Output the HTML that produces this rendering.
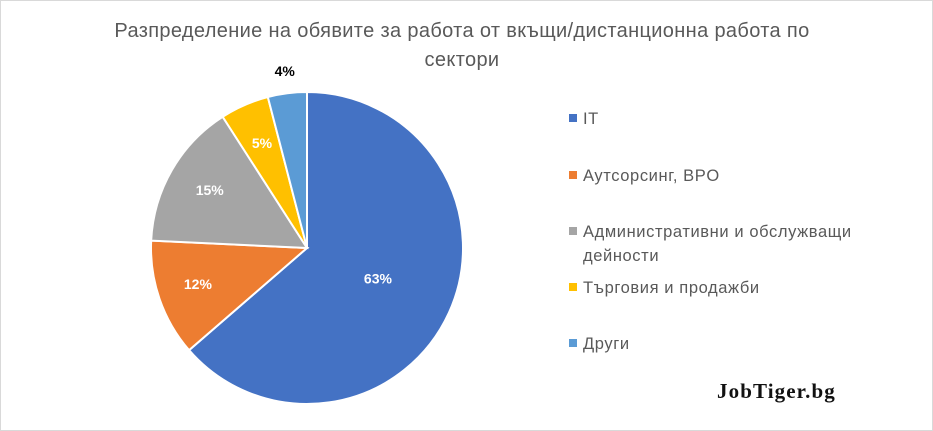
<!DOCTYPE html>
<html><head><meta charset="utf-8"><style>
body{margin:0;background:#fff;width:933px;height:431px;overflow:hidden;font-family:"Liberation Sans","DejaVu Sans",sans-serif;}
svg{display:block}
</style></head><body>
<svg id="c" width="933" height="431">
<rect x="0.5" y="0.5" width="932" height="430" fill="#fff" stroke="#d9d9d9"/>
<text x="462" y="37" text-anchor="middle" font-size="20" letter-spacing="0.35" fill="#595959">Разпределение на обявите за работа от вкъщи/дистанционна работа по</text>
<text x="462" y="66" text-anchor="middle" font-size="20" letter-spacing="0.35" fill="#595959">сектори</text>
<g id="slices"></g><g id="labels"></g><g id="legend"></g>
<text x="717" y="398" font-family="'Liberation Serif',serif" font-weight="bold" font-size="21" letter-spacing="1.1" fill="#111">JobTiger.bg</text>
</svg>
<script>
const categories=["IT","Аутсорсинг, BPO","Административни и обслужващи|дейности","Търговия и продажби","Други"];
const values=[63,12,15,5,4];
const labels=["63%","12%","15%","5%","4%"];
const colors=["#4472c4","#ed7d31","#a5a5a5","#ffc000","#5b9bd5"];
const lr=[0.5,0.74,0.72,0.72,1.13];
const NS="http://www.w3.org/2000/svg";
const cx=307,cy=248,r=156;
const total=values.reduce((a,b)=>a+b,0);
let a0=0;
const sg=document.getElementById('slices'),lg=document.getElementById('labels'),leg=document.getElementById('legend');
function pt(a,rr){return [cx+rr*Math.sin(a),cy-rr*Math.cos(a)];}
values.forEach((v,i)=>{
  const a1=a0+v/total*2*Math.PI;
  const [x0,y0]=pt(a0,r),[x1,y1]=pt(a1,r);
  const p=document.createElementNS(NS,'path');
  p.setAttribute('d',`M${cx},${cy}L${x0},${y0}A${r},${r} 0 ${a1-a0>Math.PI?1:0} 1 ${x1},${y1}Z`);
  p.setAttribute('fill',colors[i]);p.setAttribute('stroke','#fff');p.setAttribute('stroke-width','2');
  
  
  sg.appendChild(p);
  const [lx,ly]=pt((a0+a1)/2,r*lr[i]);
  const t=document.createElementNS(NS,'text');
  t.setAttribute('x',lx);t.setAttribute('y',ly+3);t.setAttribute('text-anchor','middle');
  t.setAttribute('font-size','14');t.setAttribute('font-weight','bold');
  t.setAttribute('fill',lr[i]>1?'#000':'#fff');
  t.textContent=labels[i];
  
  
  lg.appendChild(t);
  a0=a1;
});
const rowY=[118,175,231,287,343];
categories.forEach((c,i)=>{
  const g=document.createElementNS(NS,'g');
  
  
  const s=document.createElementNS(NS,'rect');
  s.setAttribute('x',569);s.setAttribute('y',rowY[i]-4);s.setAttribute('width',8);s.setAttribute('height',8);s.setAttribute('fill',colors[i]);
  g.appendChild(s);
  c.split('|').forEach((line,j)=>{
    const t=document.createElementNS(NS,'text');
    t.setAttribute('x',583);t.setAttribute('y',rowY[i]+6+j*24);t.setAttribute('font-size','16.5');t.setAttribute('letter-spacing','0.6');t.setAttribute('fill','#595959');
    t.textContent=line;g.appendChild(t);
  });
  leg.appendChild(g);
});
</script>
</body></html>
